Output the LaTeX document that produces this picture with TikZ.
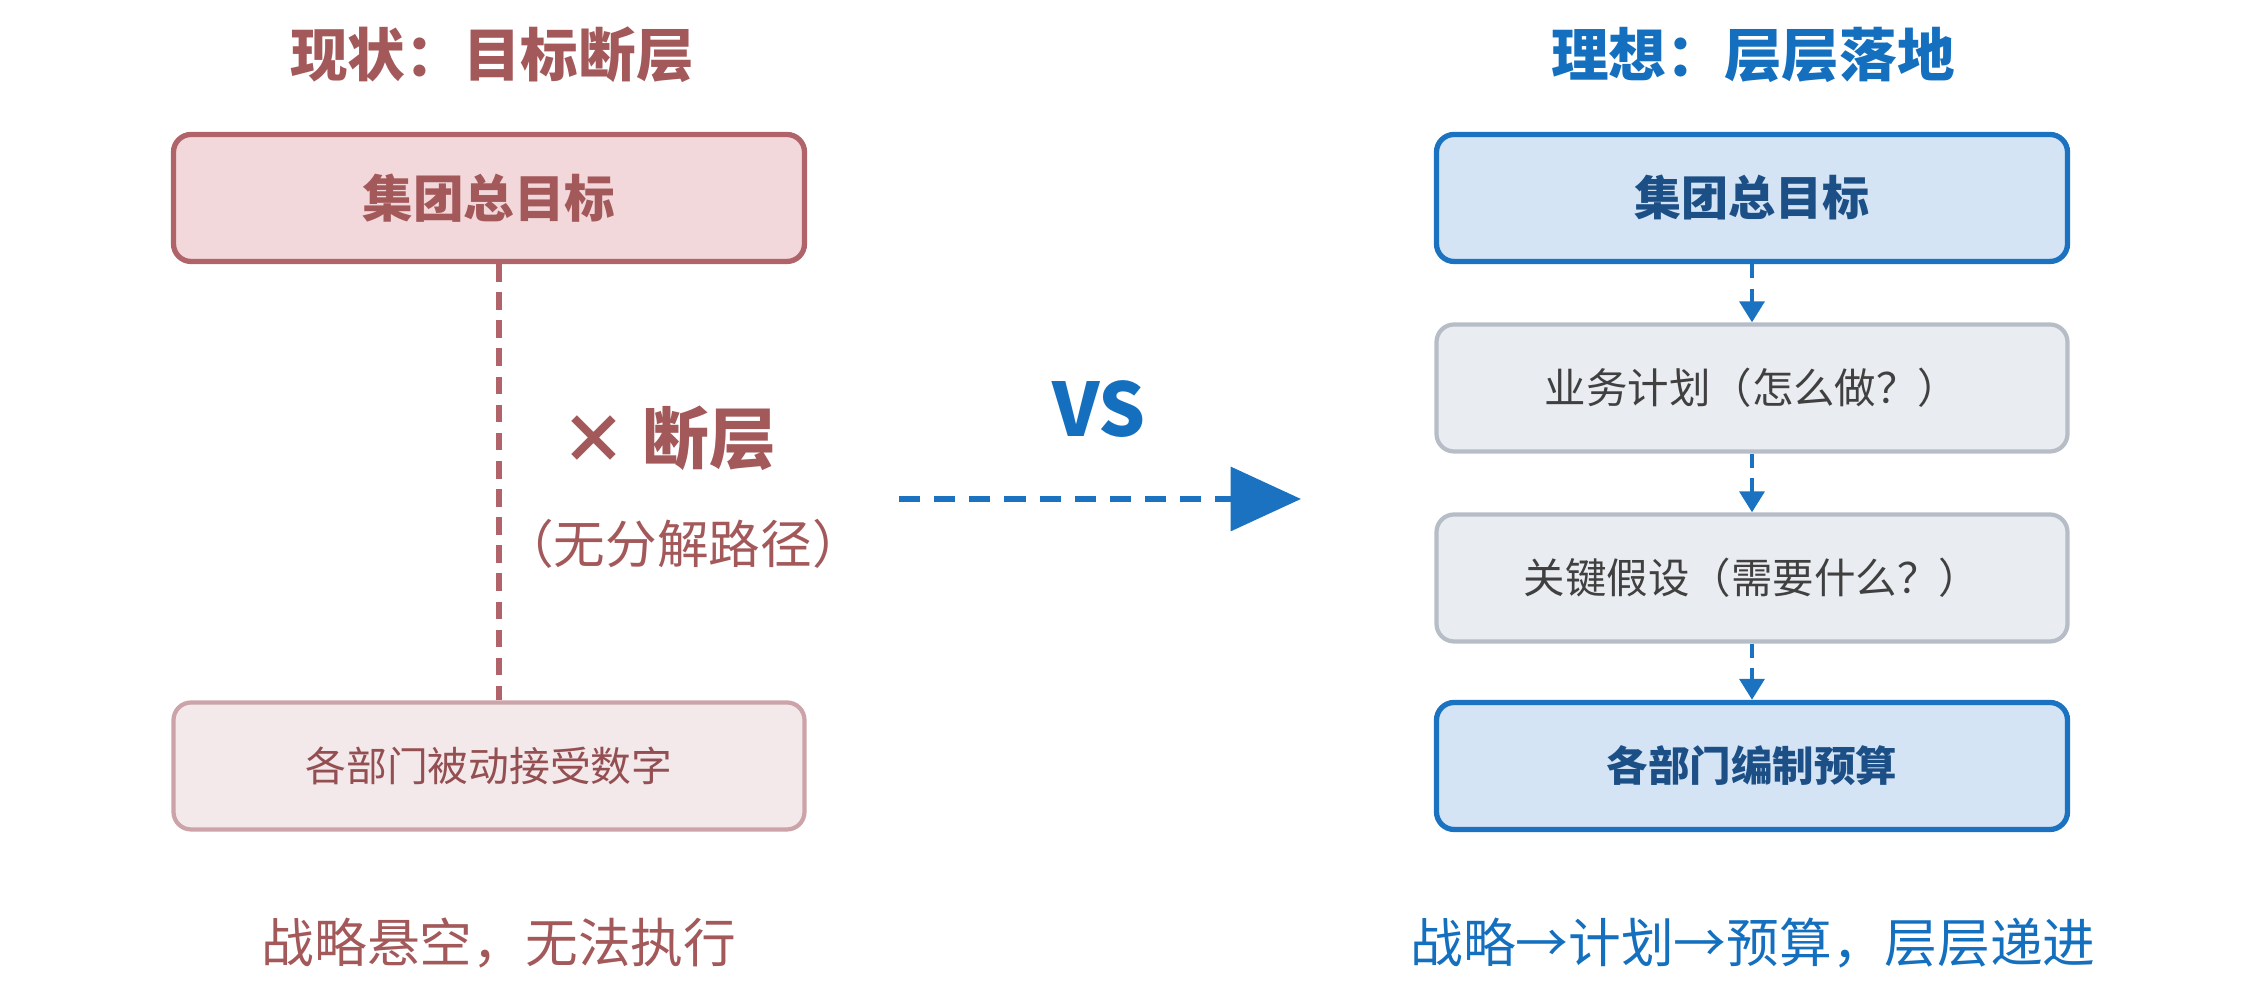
\documentclass[tikz,border=0pt]{standalone}
\usepackage{fontspec}
\setmainfont{Noto Sans CJK SC}
\usetikzlibrary{arrows.meta,positioning}
\definecolor{redtxt}{HTML}{A3585A}
\definecolor{redline}{HTML}{B0646A}
\definecolor{redfill}{HTML}{F2D8DA}
\definecolor{palefill}{HTML}{F3E8EA}
\definecolor{paleline}{HTML}{CBA3A8}
\definecolor{bluetxt}{HTML}{1470BE}
\definecolor{blueline}{HTML}{1A72C0}
\definecolor{bluefill}{HTML}{D4E4F5}
\definecolor{bluedark}{HTML}{1C4F86}
\definecolor{greyfill}{HTML}{E9ECF0}
\definecolor{greyline}{HTML}{B7BDC7}
\tikzset{
  box/.style = {rounded corners=5pt, minimum width=6.31cm, minimum height=1.27cm, line width=1.5pt},
  title/.style = {font=\bfseries\fontsize{16.4}{19}\selectfont},
  caption/.style = {font=\fontsize{15}{18}\selectfont},
  downstep/.style = {blueline, line width=1.4pt, dash pattern=on 4pt off 3pt, -{Triangle[length=6pt,width=7pt]}}
}
\begin{document}
\begin{tikzpicture}
\useasboundingbox (0,0) rectangle (22.68,9.88);
% left side: current state
\node[title, redtxt] (curtitle) at (4.92,9.33) {现状：目标断层};
\node[box, draw=redline, fill=redfill, text=redtxt, font=\bfseries\fontsize{14.4}{17}\selectfont] (lgoal) at (4.89,7.90) {集团总目标};
\node[box, draw=paleline, fill=palefill, text=redtxt!90!black, line width=1.2pt, font=\fontsize{11.6}{14}\selectfont] (ldept) at (4.89,2.22) {各部门被动接受数字};
\draw[redline, line width=1.6pt, dash pattern=on 5pt off 3pt] (lgoal.south -| 4.99,0) -- (ldept.north -| 4.99,0);
\node[redtxt, font=\bfseries\fontsize{19}{22}\selectfont] (gap) at (6.68,5.50) {× 断层};
\node[redtxt, font=\fontsize{14.7}{17}\selectfont] (gapnote) at (6.83,4.44) {（无分解路径）};
\node[caption, redtxt] (lcap) at (4.99,0.45) {战略悬空，无法执行};
% middle
\node[bluetxt, font=\bfseries\fontsize{21}{24}\selectfont] (vs) at (10.99,5.79) {VS};
\coordinate (afrom) at (8.99,4.89);
\coordinate (ato) at (13.01,4.89);
\draw[blueline, line width=1.6pt, dash pattern=on 6pt off 4pt, -{Triangle[length=20pt,width=18pt]}] (afrom) -- (ato);
% right side: ideal
\node[title, bluetxt] (idtitle) at (17.53,9.33) {理想：层层落地};
\node[box, draw=blueline, fill=bluefill, text=bluedark, font=\bfseries\fontsize{13.4}{16}\selectfont] (rgoal) at (17.52,7.90) {集团总目标};
\node[box, draw=greyline, fill=greyfill, text=black!75, line width=1.2pt, font=\fontsize{11.8}{14}\selectfont] (plan) at (17.52,6.00) {业务计划（怎么做？）};
\node[box, draw=greyline, fill=greyfill, text=black!75, line width=1.2pt, font=\fontsize{11.8}{14}\selectfont] (assume) at (17.52,4.10) {关键假设（需要什么？）};
\node[box, draw=blueline, fill=bluefill, text=bluedark, font=\bfseries\fontsize{11.8}{14}\selectfont] (rdept) at (17.52,2.22) {各部门编制预算};
\draw[downstep] (rgoal.south) -- (plan.north);
\draw[downstep] (plan.south) -- (assume.north);
\draw[downstep] (assume.south) -- (rdept.north);
\node[caption, bluetxt] (rcap) at (17.53,0.45) {战略→计划→预算，层层递进};
\end{tikzpicture}
\end{document}
